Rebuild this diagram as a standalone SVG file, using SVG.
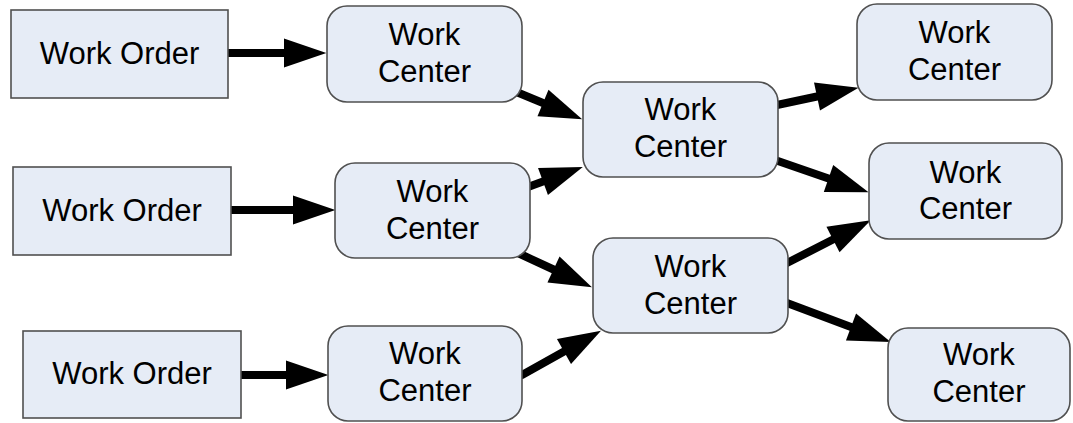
<svg xmlns="http://www.w3.org/2000/svg" width="1073" height="423" viewBox="0 0 1073 423">
<defs>
<style>
.order{fill:#e6ecf6;stroke:#505050;stroke-width:1.6}
.wc{fill:#e6ecf6;stroke:#505050;stroke-width:1.6}
text{font-family:"Liberation Sans",Arial,sans-serif;font-size:31px;fill:#000;text-anchor:middle}
.conn{fill:none;stroke:#000;stroke-width:8;stroke-linecap:round}
</style>
<marker id="ah" markerUnits="strokeWidth" markerWidth="6" markerHeight="4" refX="0" refY="1.8" orient="auto" overflow="visible">
<path d="M0,0 L5.3,1.8 L0,3.6 z" fill="#000"/>
</marker>
</defs>
<rect width="1073" height="423" fill="#fff"/>
<g id="connectors">
<path class="conn" marker-end="url(#ah)" d="M226,53 L284,53"/>
<path class="conn" marker-end="url(#ah)" d="M229,210 L293,210"/>
<path class="conn" marker-end="url(#ah)" d="M239,375 L286,375"/>
<path class="conn" marker-end="url(#ah)" d="M514,91 L543,103"/>
<path class="conn" marker-end="url(#ah)" d="M528,187 L543,181.5"/>
<path class="conn" marker-end="url(#ah)" d="M518,253 L553.5,269.5"/>
<path class="conn" marker-end="url(#ah)" d="M522,375 L564,351.5"/>
<path class="conn" marker-end="url(#ah)" d="M777,105 L817,96.5"/>
<path class="conn" marker-end="url(#ah)" d="M775,160 L828.5,178.5"/>
<path class="conn" marker-end="url(#ah)" d="M787,263 L833,239.5"/>
<path class="conn" marker-end="url(#ah)" d="M787,303 L851,327"/>
</g>
<g id="wo1"><rect class="order" x="11" y="10" width="217" height="88"/><text x="119.5" y="64">Work Order</text></g>
<g id="wo2"><rect class="order" x="13" y="167" width="218" height="88"/><text x="122" y="221">Work Order</text></g>
<g id="wo3"><rect class="order" x="23" y="331" width="218" height="87"/><text x="132" y="384">Work Order</text></g>
<g id="wcA"><rect class="wc" x="327" y="6" width="195" height="96" rx="20"/><text x="424.5" y="45">Work</text><text x="424.5" y="82">Center</text></g>
<g id="wcB"><rect class="wc" x="335" y="163" width="195" height="95" rx="20"/><text x="432.5" y="202">Work</text><text x="432.5" y="239">Center</text></g>
<g id="wcC"><rect class="wc" x="328" y="326" width="194" height="95" rx="20"/><text x="425" y="364">Work</text><text x="425" y="401">Center</text></g>
<g id="wcD"><rect class="wc" x="583" y="82" width="195" height="95" rx="20"/><text x="680.5" y="120">Work</text><text x="680.5" y="157">Center</text></g>
<g id="wcE"><rect class="wc" x="593" y="238" width="195" height="95" rx="20"/><text x="690.5" y="277">Work</text><text x="690.5" y="314">Center</text></g>
<g id="wcF"><rect class="wc" x="857" y="4" width="195" height="96" rx="20"/><text x="954.5" y="43">Work</text><text x="954.5" y="80">Center</text></g>
<g id="wcG"><rect class="wc" x="869" y="143" width="193" height="96" rx="20"/><text x="965.5" y="183">Work</text><text x="965.5" y="219">Center</text></g>
<g id="wcH"><rect class="wc" x="888" y="328" width="182" height="93" rx="20"/><text x="979" y="365">Work</text><text x="979" y="402">Center</text></g>
</svg>
